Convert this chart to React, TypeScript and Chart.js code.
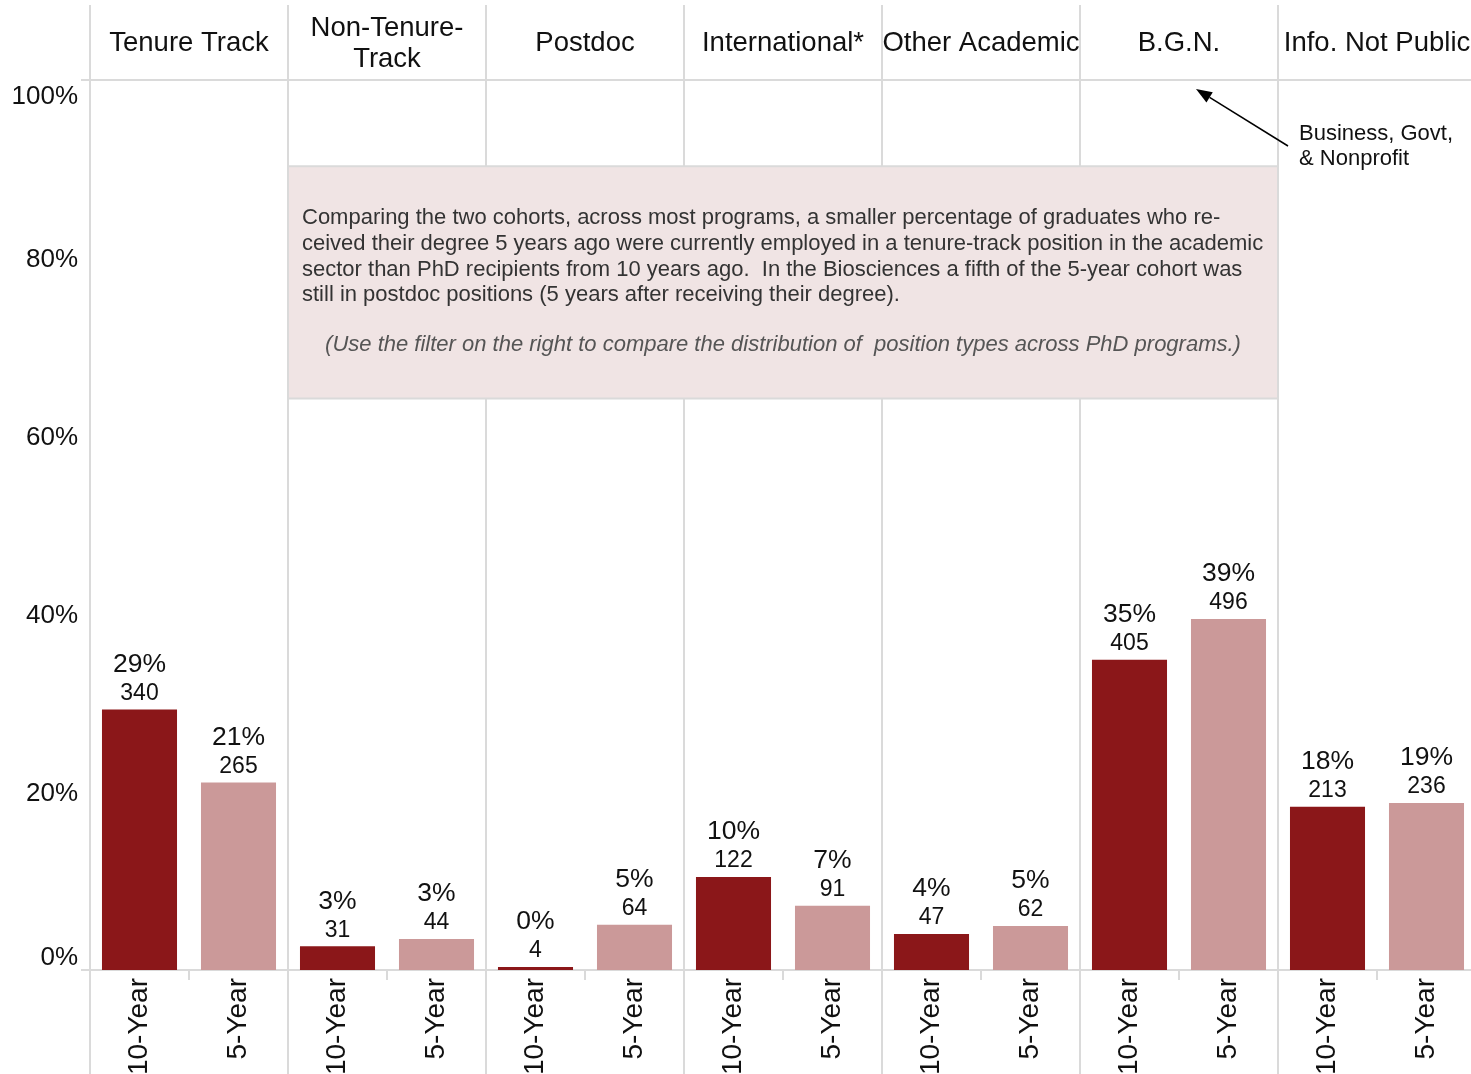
import React, { useEffect, useRef } from "react";
import { Chart, registerables } from "chart.js";

Chart.register(...registerables);

// ---- Data ----
const groups: string[][] = [
  ["Tenure Track"],
  ["Non-Tenure-", "Track"],
  ["Postdoc"],
  ["International*"],
  ["Other Academic"],
  ["B.G.N."],
  ["Info. Not Public"],
];
const cohorts = ["10-Year", "5-Year"];
const tenYearPct = [29.26, 2.67, 0.34, 10.45, 4.04, 34.85, 18.33];
const fiveYearPct = [21.07, 3.49, 5.09, 7.23, 4.93, 39.43, 18.76];
const tenYearCount = [340, 31, 4, 122, 47, 405, 213];
const fiveYearCount = [265, 44, 64, 91, 62, 496, 236];
const yTicks = [0, 20, 40, 60, 80, 100];
const noteLines = [
  "Comparing the two cohorts, across most programs, a smaller percentage of graduates who re-",
  "ceived their degree 5 years ago were currently employed in a tenure-track position in the academic",
  "sector than PhD recipients from 10 years ago.  In the Biosciences a fifth of the 5-year cohort was",
  "still in postdoc positions (5 years after receiving their degree).",
];
const noteItalic =
  "(Use the filter on the right to compare the distribution of  position types across PhD programs.)";
const calloutLines = ["Business, Govt,", "& Nonprofit"];

// ---- Styling ----
const FONT = '"Liberation Sans", Arial, Helvetica, sans-serif';
const DARK = "#8b1719";
const LIGHT = "#cb9999";
const GRID = "#dadada";
const NOTE_BG = "#f0e4e4";

const labels: string[] = [];
const values: number[] = [];
const counts: number[] = [];
const colors: string[] = [];
groups.forEach((_, i) => {
  labels.push(cohorts[0], cohorts[1]);
  values.push(tenYearPct[i], fiveYearPct[i]);
  counts.push(tenYearCount[i], fiveYearCount[i]);
  colors.push(DARK, LIGHT);
});

const decorPlugin = {
  id: "decor",
  beforeDatasetsDraw(chart: any) {
    const { ctx, chartArea, scales } = chart;
    const x = scales.x;
    const y = scales.y;
    const n = labels.length;
    const step = x.getPixelForValue(1) - x.getPixelForValue(0);
    const boundary = (i: number) => x.getPixelForValue(i) - step / 2;
    ctx.save();
    ctx.strokeStyle = GRID;
    ctx.lineWidth = 2;
    // horizontal header border and baseline
    [chartArea.top, chartArea.bottom].forEach((py: number) => {
      ctx.beginPath();
      ctx.moveTo(chartArea.left - 9, Math.round(py));
      ctx.lineTo(chartArea.right, Math.round(py));
      ctx.stroke();
    });
    // vertical panel lines & mid ticks
    for (let i = 0; i <= n; i++) {
      const px = Math.round(boundary(i));
      ctx.beginPath();
      if (i % 2 === 0) {
        ctx.moveTo(px, 5);
        ctx.lineTo(px, chart.height);
      } else {
        ctx.moveTo(px, chartArea.bottom);
        ctx.lineTo(px, chartArea.bottom + 10);
      }
      ctx.stroke();
    }
    // annotation box
    const bx0 = Math.round(boundary(2));
    const bx1 = Math.round(boundary(12));
    const by0 = y.getPixelForValue(90.3);
    const by1 = y.getPixelForValue(64.2);
    ctx.fillStyle = NOTE_BG;
    ctx.fillRect(bx0 + 1, by0, bx1 - bx0 - 2, by1 - by0);
    ctx.strokeStyle = GRID;
    ctx.lineWidth = 2;
    ctx.beginPath();
    ctx.moveTo(bx0, by0);
    ctx.lineTo(bx1, by0);
    ctx.moveTo(bx0, by1);
    ctx.lineTo(bx1, by1);
    ctx.stroke();
    // note text
    ctx.fillStyle = "#333333";
    ctx.font = `22px ${FONT}`;
    ctx.textAlign = "left";
    ctx.textBaseline = "middle";
    noteLines.forEach((t, k) => {
      ctx.fillText(t, bx0 + 14, by0 + 52 + k * 25.7);
    });
    ctx.fillStyle = "#555555";
    ctx.font = `italic 22px ${FONT}`;
    ctx.textAlign = "center";
    ctx.fillText(noteItalic, (bx0 + bx1) / 2, by0 + 179);
    ctx.restore();
  },
  afterDatasetsDraw(chart: any) {
    const { ctx, chartArea, scales } = chart;
    const x = scales.x;
    const y = scales.y;
    const meta = chart.getDatasetMeta(0);
    ctx.save();
    ctx.textAlign = "center";
    ctx.textBaseline = "middle";
    // bar labels
    meta.data.forEach((bar: any, i: number) => {
      ctx.fillStyle = "#111111";
      ctx.font = `23px ${FONT}`;
      ctx.fillText(String(counts[i]), bar.x, bar.y - 16);
      ctx.font = `26.5px ${FONT}`;
      ctx.fillText(Math.round(values[i]) + "%", bar.x, bar.y - 45);
    });
    // y axis labels (clamped inside plot like Tableau)
    ctx.textAlign = "right";
    ctx.font = `26px ${FONT}`;
    yTicks.forEach((v) => {
      let py = y.getPixelForValue(v) + 2;
      py = Math.max(chartArea.top + 17, Math.min(chartArea.bottom - 12, py));
      ctx.fillText(v + "%", chartArea.left - 12, py);
    });
    // header labels
    ctx.textAlign = "center";
    ctx.font = `27.5px ${FONT}`;
    groups.forEach((g, i) => {
      const cx = (x.getPixelForValue(2 * i) + x.getPixelForValue(2 * i + 1)) / 2;
      if (g.length === 1) {
        ctx.fillText(g[0], cx, 43);
      } else {
        ctx.fillText(g[0], cx, 28);
        ctx.fillText(g[1], cx, 59);
      }
    });
    // callout arrow
    const ax0 = 1288, ay0 = 146, ax1 = 1196, ay1 = 89;
    ctx.strokeStyle = "#000";
    ctx.fillStyle = "#000";
    ctx.lineWidth = 1.5;
    const ang = Math.atan2(ay1 - ay0, ax1 - ax0);
    const hl = 16, hw = 6;
    const bxp = ax1 - hl * Math.cos(ang), byp = ay1 - hl * Math.sin(ang);
    ctx.beginPath();
    ctx.moveTo(ax0, ay0);
    ctx.lineTo(bxp, byp);
    ctx.stroke();
    ctx.beginPath();
    ctx.moveTo(ax1, ay1);
    ctx.lineTo(bxp + hw * Math.sin(ang), byp - hw * Math.cos(ang));
    ctx.lineTo(bxp - hw * Math.sin(ang), byp + hw * Math.cos(ang));
    ctx.closePath();
    ctx.fill();
    ctx.textAlign = "left";
    ctx.font = `22px ${FONT}`;
    ctx.fillStyle = "#111111";
    calloutLines.forEach((t, k) => ctx.fillText(t, 1299, 134 + k * 25));
    ctx.restore();
  },
};

export default function App() {
  const canvasRef = useRef<HTMLCanvasElement | null>(null);
  useEffect(() => {
    document.body.style.margin = "0";
    const chart = new Chart(canvasRef.current as HTMLCanvasElement, {
      type: "bar",
      data: {
        labels,
        datasets: [
          {
            data: values,
            backgroundColor: colors,
            barPercentage: 0.758,
            categoryPercentage: 1,
          },
        ],
      },
      options: {
        animation: false,
        responsive: true,
        maintainAspectRatio: false,
        layout: { padding: { left: 90, top: 80, right: 0, bottom: 0 } },
        plugins: { legend: { display: false }, tooltip: { enabled: false } },
        scales: {
          x: {
            type: "category",
            grid: { display: false, drawTicks: false },
            border: { display: false },
            ticks: {
              autoSkip: false,
              minRotation: 90,
              maxRotation: 90,
              padding: 8,
              color: "#111111",
              font: { family: FONT, size: 28 },
            },
            afterFit: (s: any) => {
              s.height = 104;
            },
          },
          y: { display: false, min: 0, max: 100 },
        },
      },
      plugins: [decorPlugin],
    });
    return () => chart.destroy();
  }, []);
  return (
    <div style={{ width: 1471, height: 1074, overflow: "hidden", position: "relative" }}>
      <div style={{ width: 1476, height: 1074, position: "absolute", left: 0, top: 0 }}>
        <canvas ref={canvasRef} />
      </div>
    </div>
  );
}
